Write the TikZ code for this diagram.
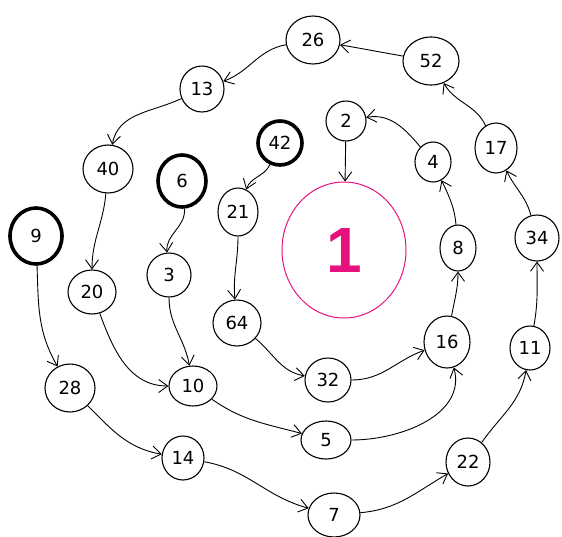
\documentclass[tikz,border=0pt]{standalone}
\usepackage{fontspec}
\setmainfont{DejaVu Sans}
\newfontfamily\onefont{Liberation Sans}
\usetikzlibrary{shapes.geometric,arrows.meta}
\definecolor{pinkc}{HTML}{E5127D}
\begin{document}
\begin{tikzpicture}[x=1pt,y=-1pt,
  num/.style={ellipse,draw,line width=1.1pt,inner sep=0pt,font=\fontsize{18}{20}\selectfont},
  start/.style={num,line width=3.6pt},
  edge/.style={draw,line width=0.9pt,-{Straight Barb[length=9pt,width=13pt,line width=0.9pt]}}]
\useasboundingbox (0,0) rectangle (562,536);
% nodes
\node[num,minimum width=54,minimum height=48] (n26) at (313,40) {26};
\node[num,minimum width=56,minimum height=48] (n52) at (431,61) {52};
\node[num,minimum width=44,minimum height=46] (n13) at (202,89) {13};
\node[num,minimum width=40,minimum height=40] (n2) at (346,121) {2};
\node[start,minimum width=44,minimum height=44] (n42) at (280,143) {42};
\node[num,minimum width=36,minimum height=40] (n4) at (433,162) {4};
\node[num,minimum width=42,minimum height=50] (n17) at (496,148) {17};
\node[num,minimum width=50,minimum height=48] (n40) at (108,169) {40};
\node[start,minimum width=48,minimum height=52] (n6) at (182,181) {6};
\node[num,minimum width=40,minimum height=48] (n21) at (238,212) {21};
\node[ellipse,draw=pinkc,line width=1pt,minimum width=124,minimum height=136,inner sep=0pt,text=pinkc,font=\onefont\fontsize{64}{64}\bfseries\selectfont] (n1) at (344,250) {1};
\node[num,minimum width=44,minimum height=46] (n34) at (537,238) {34};
\node[num,minimum width=36,minimum height=46] (n8) at (458,248) {8};
\node[start,minimum width=52,minimum height=56] (n9) at (36,236) {9};
\node[num,minimum width=44,minimum height=44] (n3) at (169,275) {3};
\node[num,minimum width=48,minimum height=44] (n20) at (92,292) {20};
\node[num,minimum width=48,minimum height=46] (n64) at (237,323) {64};
\node[num,minimum width=40,minimum height=44] (n11) at (530,348) {11};
\node[num,minimum width=46,minimum height=52] (n16) at (447,342) {16};
\node[num,minimum width=50,minimum height=48] (n28) at (70,388) {28};
\node[num,minimum width=48,minimum height=40] (n10) at (193,386) {10};
\node[num,minimum width=46,minimum height=44] (n32) at (328,380) {32};
\node[num,minimum width=50,minimum height=38] (n5) at (326,440) {5};
\node[num,minimum width=42,minimum height=44] (n14) at (183,458) {14};
\node[num,minimum width=44,minimum height=48] (n22) at (468,462) {22};
\node[num,minimum width=52,minimum height=44] (n7) at (334,515) {7};
% edges
\draw[edge] (n9) to[out=-88,in=120] (n28);
\draw[edge] (n28) to[out=-45,in=170] (n14);
\draw[edge] (n14) to[out=-10,in=165] (n7);
\draw[edge] (n7) to[out=5,in=-150] (n22);
\draw[edge] (n22) to[out=55,in=-100] (n11);
\draw[edge] (n11) to[out=80,in=-90] (n34);
\draw[edge] (n34) to[out=105,in=-65] (n17);
\draw[edge] (n17) to[out=115,in=-60] (n52);
\draw[edge] (n52) to[out=170,in=-10] (n26);
\draw[edge] (n26) to[out=190,in=20] (n13);
\draw[edge] (n13) to[out=205,in=80] (n40);
\draw[edge] (n40) to[out=-95,in=90] (n20);
\draw[edge] (n20) to[out=-70,in=180] (n10);
\draw[edge] (n10) to[out=-35,in=165] (n5);
\draw[edge] (n5) to[out=0,in=-75] (n16);
\draw[edge] (n16) to[out=80,in=-90] (n8);
\draw[edge] (n8) to[out=95,in=-65] (n4);
\draw[edge] (n4) to[out=130,in=10] (n2);
\draw[edge] (n2) -- (n1);
\draw[edge] (n6) to[out=-85,in=95] (n3);
\draw[edge] (n3) to[out=-90,in=100] (n10);
\draw[edge] (n42) to[out=-115,in=70] (n21);
\draw[edge] (n21) to[out=-90,in=95] (n64);
\draw[edge] (n64) to[out=-40,in=170] (n32);
\draw[edge] (n32) to[out=0,in=-160] (n16);
\end{tikzpicture}
\end{document}
